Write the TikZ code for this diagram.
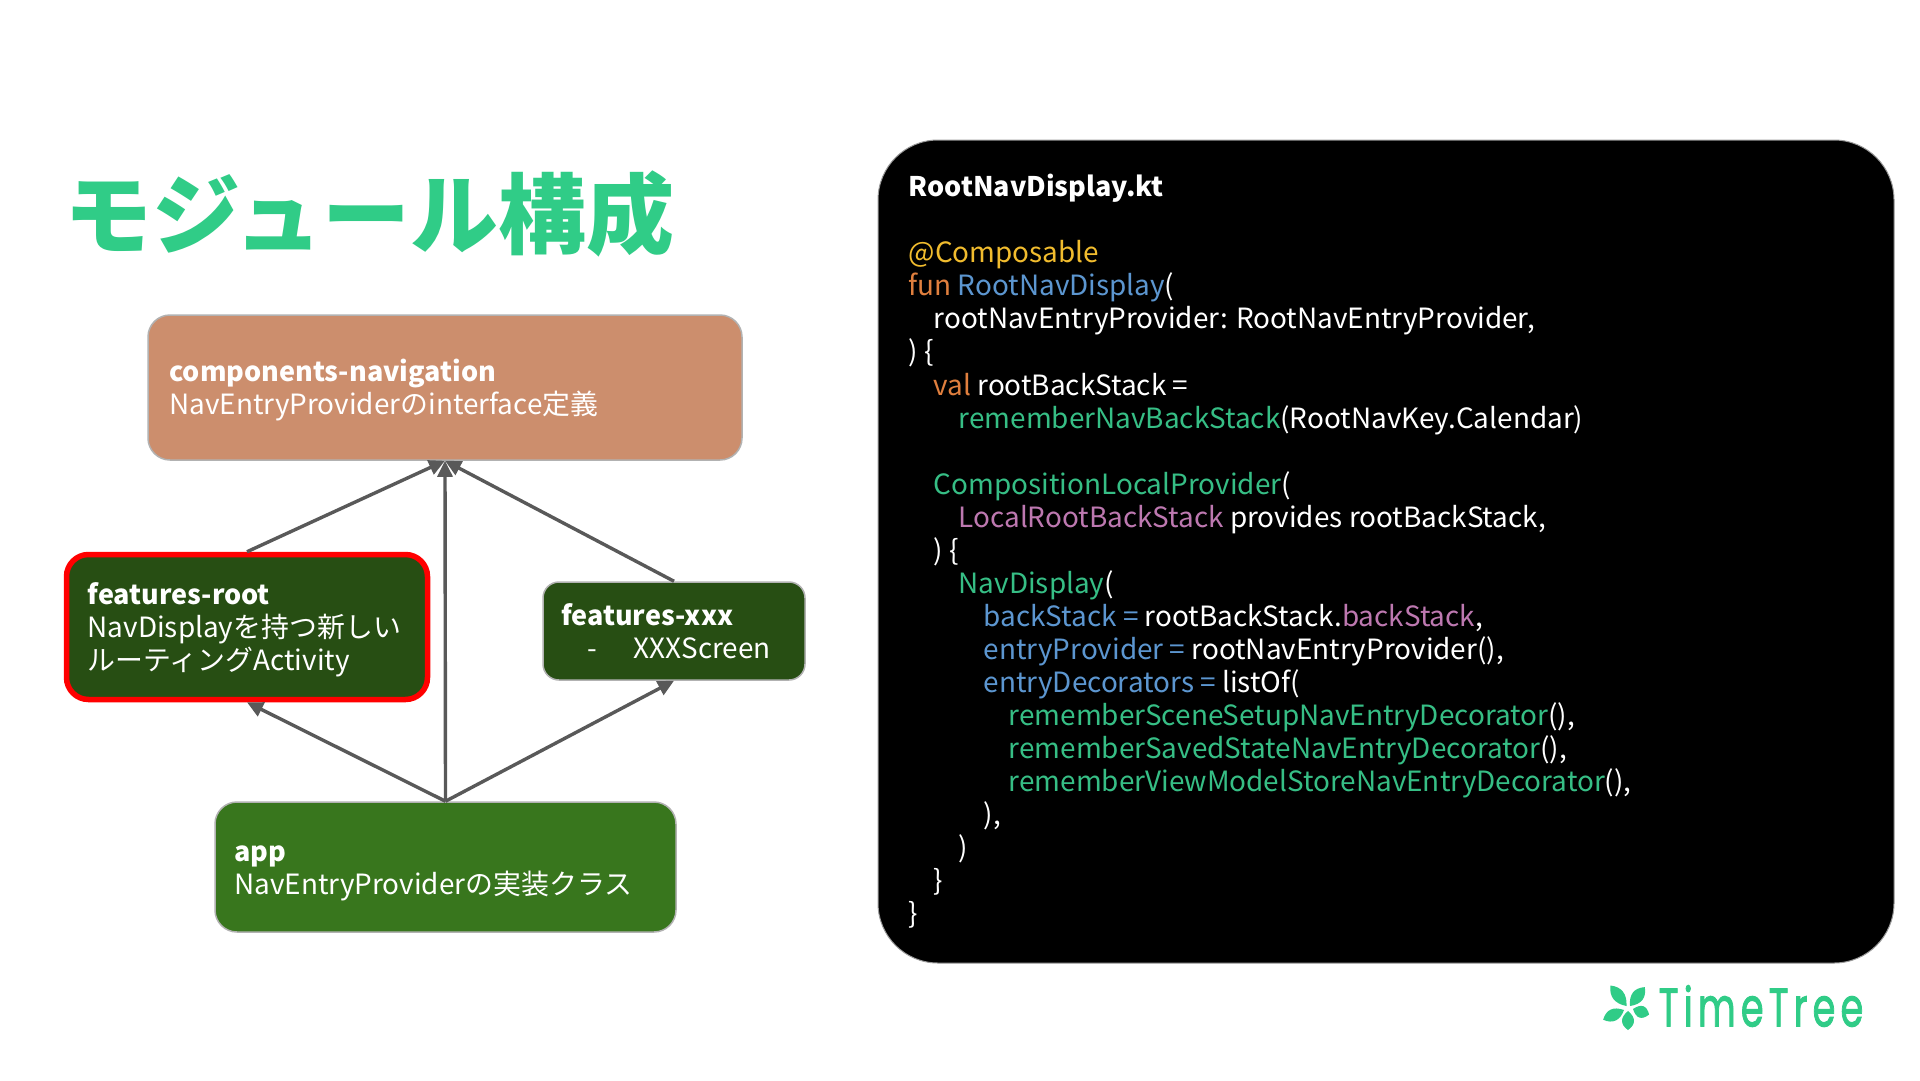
\documentclass[tikz,border=0pt]{standalone}
\usepackage{fontspec}
\usetikzlibrary{arrows.meta}
\setmainfont{Noto Sans CJK JP}
\newfontfamily\logofont[LetterSpace=14,FakeBold=2]{Poppins}
\definecolor{brandgreen}{HTML}{30CC87}
\definecolor{codegreen}{HTML}{36BE85}
\definecolor{codeyellow}{HTML}{F1BC2E}
\definecolor{codeorange}{HTML}{E07F3E}
\definecolor{codeblue}{HTML}{5C96D0}
\definecolor{codepink}{HTML}{BD78B0}
\definecolor{edgegray}{HTML}{595959}
\definecolor{compfill}{HTML}{CC8E6D}
\definecolor{darkgreen}{HTML}{274E13}
\definecolor{midgreen}{HTML}{38761D}
\newcommand{\cg}[1]{\textcolor{codegreen}{#1}}
\newcommand{\cy}[1]{\textcolor{codeyellow}{#1}}
\newcommand{\co}[1]{\textcolor{codeorange}{#1}}
\newcommand{\cb}[1]{\textcolor{codeblue}{#1}}
\newcommand{\cp}[1]{\textcolor{codepink}{#1}}
\newcommand{\ind}[1]{\hspace*{#1pt}}
\newcommand{\hd}[1]{{\fontsize{27}{33}\selectfont\bfseries #1}}
\tikzset{
  modbox/.style={rounded corners=22pt,draw=black!30,line width=1.5pt,align=left,anchor=center},
  boxtext/.style={text=white,align=left,inner sep=0pt,anchor=west,font=\fontsize{27.9}{33}\selectfont},
  depline/.style={draw=edgegray,line width=3.4pt,-{Triangle[length=16pt,width=15pt]}},
  petal/.style={fill=brandgreen,draw=none}
}
\begin{document}
\begin{tikzpicture}[x=1pt,y=-1pt]
\useasboundingbox (0,0) rectangle (1920,1080);
\fill[white] (0,0) rectangle (1920,1080);
\node[text=brandgreen,anchor=west,inner sep=0pt,font=\fontsize{88}{90}\selectfont\bfseries] (title) at (64.5,214) {モジュール構成};
\node[modbox,fill=compfill,minimum width=594pt,minimum height=145pt] (comp) at (445,387.5) {};
\node[modbox,fill=darkgreen,draw=red,line width=5.5pt,minimum width=361pt,minimum height=145pt] (root) at (247,627) {};
\node[modbox,fill=darkgreen,rounded corners=16pt,minimum width=262pt,minimum height=98pt] (xxx) at (674,631) {};
\node[modbox,fill=midgreen,minimum width=461pt,minimum height=130pt] (app) at (445.5,867) {};
\node[boxtext] (comptext) at (169,390) {\hd{components-navigation}\\NavEntryProviderのinterface定義};
\node[boxtext] (roottext) at (87.5,629.5) {\hd{features-root}\\NavDisplayを持つ新しい\\ルーティングActivity};
\node[boxtext] (xxxtext) at (561,631.5) {\hd{features-xxx}\\\ind{26}-\ind{37}XXXScreen};
\node[boxtext] (apptext) at (234,873) {\hd{app}\\NavEntryProviderの実装クラス};
\draw[depline] (root.north) -- (comp.south);
\draw[depline] (xxx.north) -- (comp.south);
\draw[depline] (app.north) -- (comp.south);
\draw[depline] (app.north) -- (root.south);
\draw[depline] (app.north) -- (xxx.south);
\node[fill=black,draw=black!40,line width=1pt,rounded corners=60pt,minimum width=1016pt,minimum height=823pt,inner sep=0pt,anchor=center] (codepanel) at (1386,551.5) {};
\node[anchor=north west,inner sep=0pt,text=white,align=left,font=\fontsize{27.9}{33.06}\selectfont] (code) at (908.5,174) {%
\hd{RootNavDisplay.kt}\\
\mbox{}\\
\cy{@Composable}\\
\co{fun} \cb{RootNavDisplay}(\\
\ind{25}rootNavEntryProvider: RootNavEntryProvider,\\
) \{\\
\ind{25}\co{val} rootBackStack =\\
\ind{50}\cg{rememberNavBackStack}(RootNavKey.Calendar)\\
\mbox{}\\
\ind{25}\cg{CompositionLocalProvider}(\\
\ind{50}\cp{LocalRootBackStack} provides rootBackStack,\\
\ind{25}) \{\\
\ind{50}\cg{NavDisplay}(\\
\ind{75}\cb{backStack =} rootBackStack.\cp{backStack},\\
\ind{75}\cb{entryProvider =} rootNavEntryProvider(),\\
\ind{75}\cb{entryDecorators =} listOf(\\
\ind{100}\cg{rememberSceneSetupNavEntryDecorator}(),\\
\ind{100}\cg{rememberSavedStateNavEntryDecorator}(),\\
\ind{100}\cg{rememberViewModelStoreNavEntryDecorator}(),\\
\ind{75}),\\
\ind{50})\\
\ind{25}\}\\
\}};
\foreach \ang/\len/\tx/\ty in {38/26/1626.5/1006, -38/24/1630/1006, -109/17/1633/1009, 180/19/1628/1011, 115/23/1624/1010}{
  \fill[petal,shift={(\tx,\ty)},rotate=\ang] (0,0) .. controls (-8,-0.35*\len) and (-8,-0.7*\len) .. (0,-\len) .. controls (8,-0.7*\len) and (8,-0.35*\len) .. (0,0);
}
\node[anchor=west,inner sep=0pt,text=brandgreen,font=\fontsize{54}{58}\logofont] (logo) at (1658.5,1006) {\scalebox{0.68}[1]{TimeTree}};
\end{tikzpicture}
\end{document}
